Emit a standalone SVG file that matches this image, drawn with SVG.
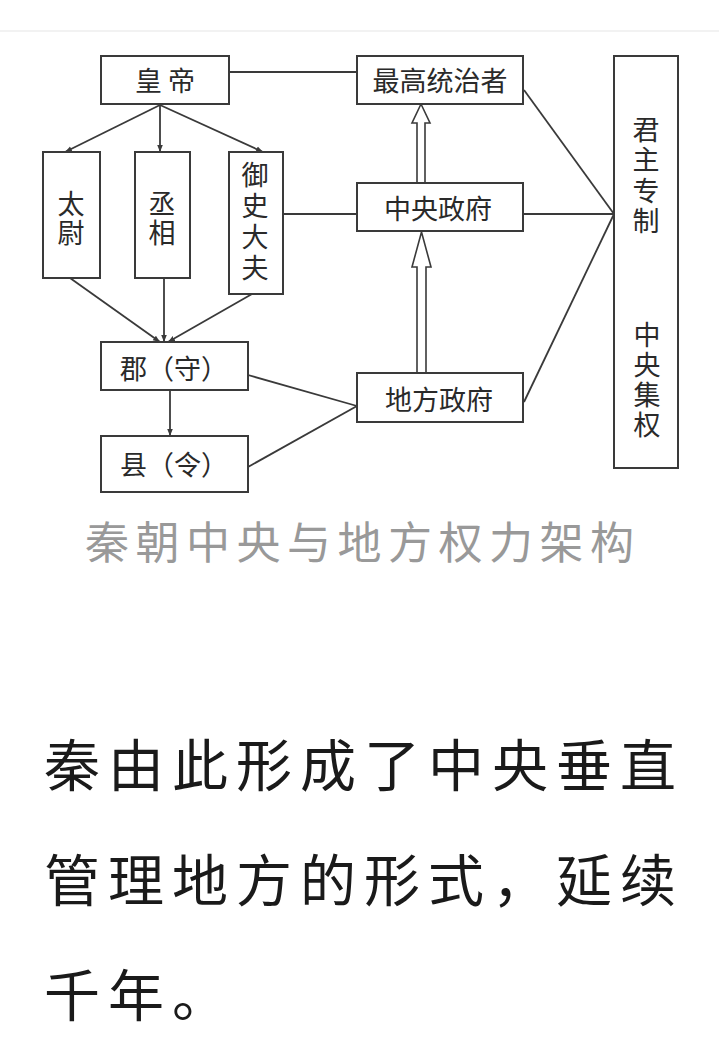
<svg xmlns="http://www.w3.org/2000/svg" width="719" height="1059" viewBox="0 0 719 1059">
<style>
.box{fill:#fff;stroke:#3a3a3a;stroke-width:2}
.ln{fill:none;stroke:#3a3a3a;stroke-width:1.8}
.hollow{fill:#fff;stroke:#3a3a3a;stroke-width:1.6;stroke-linejoin:miter}
.lbl{font-family:"Noto Sans CJK SC",sans-serif;font-size:27px;fill:#2a2a2a;text-anchor:middle;dominant-baseline:central}
.vl{font-family:"Noto Sans CJK SC",sans-serif;font-size:27px;fill:#2a2a2a;text-anchor:middle;writing-mode:vertical-rl;glyph-orientation-vertical:0}
.cap{font-family:"Noto Sans CJK SC",sans-serif;font-size:44px;fill:#999;letter-spacing:6.5px}
.body{font-family:"Noto Sans CJK SC",sans-serif;font-size:56px;fill:#1a1a1a;letter-spacing:8px}
</style>
<defs>
<marker id="arr" viewBox="0 0 10 10" refX="10" refY="5" markerWidth="7" markerHeight="7" orient="auto" markerUnits="userSpaceOnUse">
<path d="M0,1 L10,5 L0,9 z" fill="#3a3a3a"/>
</marker>
</defs>
<rect width="719" height="1059" fill="#fff"/>
<line x1="0" y1="31" x2="719" y2="31" stroke="#eeeeee" stroke-width="1.5"/>

<g id="connectors">
<line class="ln" x1="229" y1="72" x2="357" y2="72"/>
<line class="ln" x1="283" y1="214" x2="357" y2="214"/>
<line class="ln" x1="524" y1="90" x2="614" y2="214"/>
<line class="ln" x1="523" y1="214" x2="614" y2="214"/>
<line class="ln" x1="524" y1="402" x2="614" y2="214"/>
<line class="ln" x1="248" y1="375" x2="357" y2="406"/>
<line class="ln" x1="248" y1="467" x2="357" y2="406"/>
<line class="ln" x1="160" y1="105" x2="65" y2="152" marker-end="url(#arr)"/>
<line class="ln" x1="160" y1="105" x2="160" y2="152" marker-end="url(#arr)"/>
<line class="ln" x1="160" y1="105" x2="263" y2="152" marker-end="url(#arr)"/>
<line class="ln" x1="70" y1="278" x2="160" y2="342" marker-end="url(#arr)"/>
<line class="ln" x1="164" y1="278" x2="164" y2="342" marker-end="url(#arr)"/>
<line class="ln" x1="252" y1="294" x2="168" y2="342" marker-end="url(#arr)"/>
<line class="ln" x1="170" y1="390" x2="170" y2="436" marker-end="url(#arr)"/>
<polygon class="hollow" points="417,183 417,123 412,123 421,104 430,123 425,123 425,183"/>
<polygon class="hollow" points="417,373 417,267 412,267 421.5,232 431,267 426,267 426,373"/>
</g>

<g id="n-huangdi"><rect class="box" x="101" y="56" width="128" height="48"/><text class="lbl" x="165" y="79">皇 帝</text></g>
<g id="n-zuigao"><rect class="box" x="357" y="56" width="166" height="48"/><text class="lbl" x="440" y="79">最高统治者</text></g>
<g id="n-taiwei"><rect class="box" x="43" y="152" width="57" height="126"/><text class="vl" x="71" y="219" letter-spacing="2">太尉</text></g>
<g id="n-chengxiang"><rect class="box" x="135" y="152" width="55" height="126"/><text class="vl" x="162" y="219" letter-spacing="2">丞相</text></g>
<g id="n-yushi"><rect class="box" x="229" y="152" width="54" height="142"/><text class="vl" x="255" y="223" letter-spacing="4">御史大夫</text></g>
<g id="n-zhongyang"><rect class="box" x="357" y="183" width="166" height="48"/><text class="lbl" x="438" y="207">中央政府</text></g>
<g id="n-jun"><rect class="box" x="101" y="342" width="147" height="48"/><text class="lbl" x="174" y="367">郡（守）</text></g>
<g id="n-xian"><rect class="box" x="101" y="436" width="147" height="56"/><text class="lbl" x="174" y="463">县（令）</text></g>
<g id="n-difang"><rect class="box" x="357" y="373" width="166" height="49"/><text class="lbl" x="439" y="398">地方政府</text></g>
<g id="n-junzhu"><rect class="box" x="614" y="56" width="64" height="412"/>
<text class="vl" x="646" y="177" letter-spacing="3.5">君主专制</text>
<text class="vl" x="647" y="381" letter-spacing="3">中央集权</text></g>

<text class="cap" x="85" y="559">秦朝中央与地方权力架构</text>
<text class="body" x="44" y="786">秦由此形成了中央垂直</text>
<text class="body" x="44" y="901">管理地方的形式，延续</text>
<text class="body" x="44" y="1016">千年。</text>
</svg>
